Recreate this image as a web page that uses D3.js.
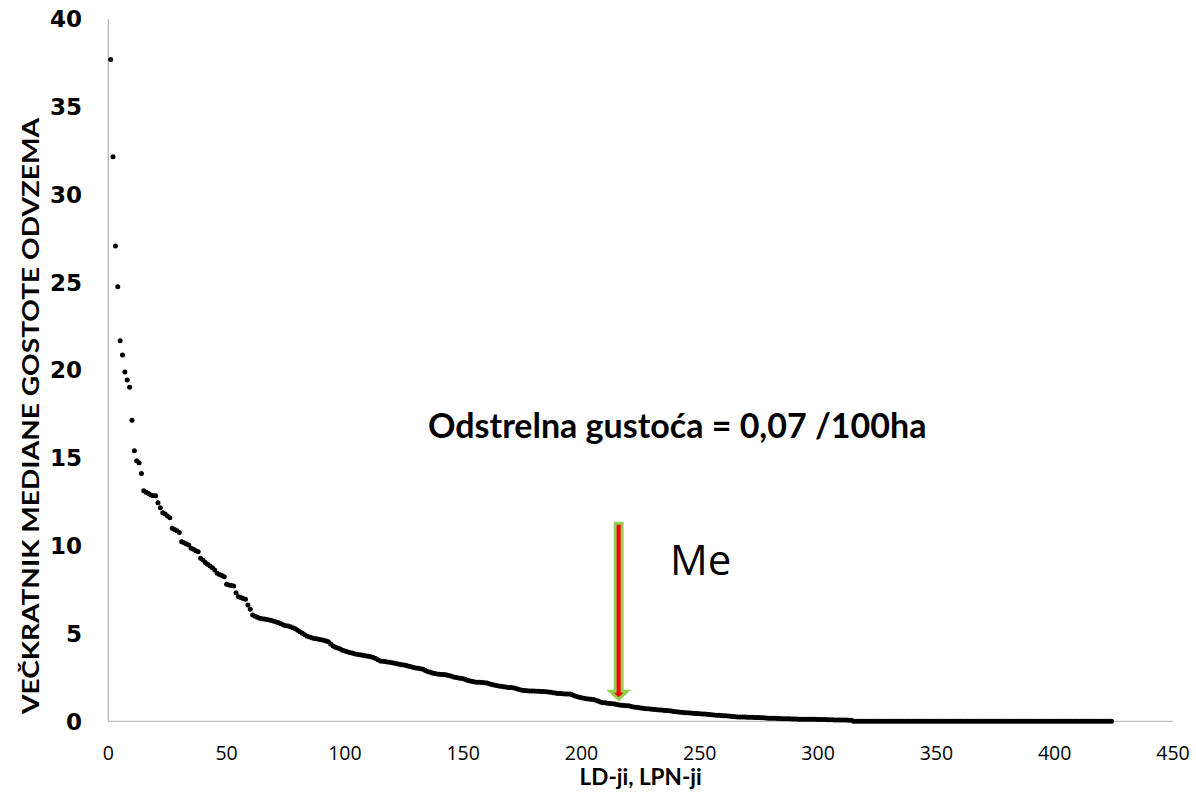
<!DOCTYPE html>
<html>
<head>
<meta charset="utf-8">
<script src="https://cdn.jsdelivr.net/npm/d3@7"></script>
<style>
  html, body { margin: 0; padding: 0; background: #fff; }
  svg { display: block; }
</style>
</head>
<body>
<svg id="chart" width="1196" height="795"></svg>
<script>
// ---- data ----
const values = [
  37.70, 32.15, 27.07, 24.75, 21.67, 20.86, 19.89, 19.44, 19.02, 17.14,
  15.41, 14.84, 14.73, 14.12, 13.13, 13.04, 12.98, 12.89, 12.85, 12.85,
  12.45, 12.16, 11.88, 11.81, 11.69, 11.59, 10.99, 10.92, 10.85, 10.76,
  10.23, 10.17, 10.10, 10.04, 9.85, 9.80, 9.72, 9.66, 9.28, 9.18,
  9.05, 8.95, 8.85, 8.75, 8.62, 8.43, 8.36, 8.30, 8.23, 7.80,
  7.76, 7.73, 7.70, 7.32, 7.10, 7.05, 7.00, 6.95, 6.62, 6.38,
  6.05, 5.98, 5.92, 5.87, 5.84, 5.82, 5.80, 5.77, 5.74, 5.70,
  5.66, 5.62, 5.55, 5.48, 5.44, 5.43, 5.39, 5.33, 5.27, 5.18,
  5.10, 5.02, 4.93, 4.85, 4.80, 4.76, 4.72, 4.70, 4.68, 4.65,
  4.62, 4.58, 4.53, 4.40, 4.29, 4.22, 4.18, 4.12, 4.05, 4.00,
  3.96, 3.92, 3.89, 3.85, 3.82, 3.79, 3.77, 3.75, 3.72, 3.70,
  3.67, 3.64, 3.58, 3.50, 3.44, 3.42, 3.40, 3.38, 3.36, 3.34,
  3.31, 3.28, 3.25, 3.22, 3.20, 3.18, 3.14, 3.10, 3.07, 3.04,
  3.02, 2.99, 2.96, 2.90, 2.84, 2.79, 2.75, 2.72, 2.70, 2.68,
  2.67, 2.66, 2.64, 2.61, 2.57, 2.53, 2.50, 2.47, 2.45, 2.42,
  2.38, 2.33, 2.29, 2.26, 2.24, 2.23, 2.22, 2.21, 2.20, 2.18,
  2.14, 2.10, 2.07, 2.04, 2.01, 1.99, 1.97, 1.95, 1.93, 1.92,
  1.91, 1.88, 1.84, 1.80, 1.77, 1.75, 1.74, 1.73, 1.72, 1.72,
  1.71, 1.71, 1.70, 1.70, 1.69, 1.67, 1.65, 1.63, 1.61, 1.59,
  1.58, 1.57, 1.56, 1.55, 1.55, 1.51, 1.46, 1.41, 1.37, 1.34,
  1.31, 1.29, 1.27, 1.25, 1.24, 1.20, 1.15, 1.10, 1.06, 1.05,
  1.03, 1.01, 1.00, 0.98, 0.96, 0.93, 0.91, 0.90, 0.89, 0.88,
  0.85, 0.82, 0.80, 0.78, 0.76, 0.74, 0.72, 0.71, 0.70, 0.68,
  0.67, 0.66, 0.65, 0.64, 0.62, 0.61, 0.60, 0.58, 0.56, 0.54,
  0.53, 0.51, 0.50, 0.49, 0.48, 0.47, 0.46, 0.45, 0.44, 0.43,
  0.42, 0.41, 0.40, 0.39, 0.37, 0.36, 0.35, 0.34, 0.33, 0.32,
  0.31, 0.30, 0.29, 0.27, 0.26, 0.25, 0.25, 0.24, 0.24, 0.23,
  0.23, 0.23, 0.22, 0.21, 0.21, 0.20, 0.20, 0.19, 0.18, 0.18,
  0.17, 0.17, 0.16, 0.16, 0.15, 0.15, 0.14, 0.14, 0.13, 0.13,
  0.13, 0.12, 0.12, 0.12, 0.12, 0.11, 0.11, 0.11, 0.11, 0.10,
  0.10, 0.10, 0.10, 0.09, 0.09, 0.09, 0.08, 0.08, 0.08, 0.07,
  0.07, 0.07, 0.06, 0.06, 0, 0, 0, 0, 0, 0,
  0, 0, 0, 0, 0, 0, 0, 0, 0, 0,
  0, 0, 0, 0, 0, 0, 0, 0, 0, 0,
  0, 0, 0, 0, 0, 0, 0, 0, 0, 0,
  0, 0, 0, 0, 0, 0, 0, 0, 0, 0,
  0, 0, 0, 0, 0, 0, 0, 0, 0, 0,
  0, 0, 0, 0, 0, 0, 0, 0, 0, 0,
  0, 0, 0, 0, 0, 0, 0, 0, 0, 0,
  0, 0, 0, 0, 0, 0, 0, 0, 0, 0,
  0, 0, 0, 0, 0, 0, 0, 0, 0, 0,
  0, 0, 0, 0, 0, 0, 0, 0, 0, 0,
  0, 0, 0, 0
];
const xTicks = [0, 50, 100, 150, 200, 250, 300, 350, 400, 450];
const yTicks = [0, 5, 10, 15, 20, 25, 30, 35, 40];
const xTitle = "LD-ji, LPN-ji";
const yTitle = "VEČKRATNIK MEDIANE GOSTOTE ODVZEMA";
const annotationTitle = "Odstrelna gustoća = 0,07 /100ha";
const medianLabel = "Me";
const medianIndex = 215.7;
const arrowTop = 11.28;
const arrowTip = 1.25;

// ---- layout ----
const svg = d3.select("#chart");
const plot = { left: 108.3, right: 1173, top: 19, bottom: 721.3 };

const x = d3.scaleLinear().domain([0, 450]).range([plot.left, plot.right]);
const y = d3.scaleLinear().domain([0, 40]).range([plot.bottom, plot.top]);

const pts = values.map((v, i) => ({ i: i + 1, v }));

// axes lines
svg.append("line")
  .attr("x1", x(0)).attr("x2", x(0))
  .attr("y1", y(40)).attr("y2", y(0))
  .attr("stroke", "#A6A6A6").attr("stroke-width", 1);
svg.append("line")
  .attr("x1", x(0)).attr("x2", x(450))
  .attr("y1", y(0)).attr("y2", y(0))
  .attr("stroke", "#BFBFBF").attr("stroke-width", 1.2);

// x tick labels
svg.append("g").selectAll("text").data(xTicks).join("text")
  .attr("x", d => x(d))
  .attr("y", 760)
  .attr("text-anchor", "middle")
  .attr("font-family", "'Open Sans', sans-serif")
  .attr("font-size", 19.5)
  .attr("fill", "#000")
  .text(d => d);

// y tick labels
svg.append("g").selectAll("text").data(yTicks).join("text")
  .attr("x", 82)
  .attr("y", d => y(d))
  .attr("dy", "0.36em")
  .attr("text-anchor", "end")
  .attr("font-family", "'DejaVu Sans', sans-serif")
  .attr("font-weight", "bold")
  .attr("font-size", 23)
  .attr("fill", "#000")
  .text(d => d);

// axis titles
svg.append("text")
  .attr("x", (plot.left + plot.right) / 2)
  .attr("y", 785)
  .attr("text-anchor", "middle")
  .attr("font-family", "Lato, sans-serif")
  .attr("font-weight", "bold")
  .attr("font-size", 22.5)
  .text(xTitle);

svg.append("text")
  .attr("transform", "translate(39, 416) rotate(-90)")
  .attr("text-anchor", "middle")
  .attr("font-family", "Lato, sans-serif")
  .attr("font-weight", "bold")
  .attr("font-size", 22)
  .attr("textLength", 596)
  .attr("lengthAdjust", "spacingAndGlyphs")
  .text(yTitle);

// points
svg.append("g").selectAll("circle").data(pts).join("circle")
  .attr("cx", d => x(d.i))
  .attr("cy", d => y(d.v))
  .attr("r", 2.5)
  .attr("fill", "#000");

// annotation title
svg.append("text")
  .attr("x", 428)
  .attr("y", 438)
  .attr("font-family", "Lato, sans-serif")
  .attr("font-weight", "bold")
  .attr("font-size", 34)
  .text(annotationTitle);

// median arrow
const cx = x(medianIndex);
const yt = y(arrowTop), ytip = y(arrowTip);
const headTop = ytip - 8;
const sw = 3.5, hw = 8.5;
const arrowPath = d3.path();
arrowPath.moveTo(cx - sw, yt);
arrowPath.lineTo(cx + sw, yt);
arrowPath.lineTo(cx + sw, headTop);
arrowPath.lineTo(cx + hw, headTop);
arrowPath.lineTo(cx, ytip);
arrowPath.lineTo(cx - hw, headTop);
arrowPath.lineTo(cx - sw, headTop);
arrowPath.closePath();
svg.append("path")
  .attr("d", arrowPath.toString())
  .attr("fill", "#FF0000")
  .attr("stroke", "#92D050")
  .attr("stroke-width", 3)
  .attr("stroke-linejoin", "miter");

svg.append("text")
  .attr("x", 670)
  .attr("y", 575)
  .attr("font-family", "'Open Sans', sans-serif")
  .attr("font-size", 42)
  .text(medianLabel);
</script>
</body>
</html>
